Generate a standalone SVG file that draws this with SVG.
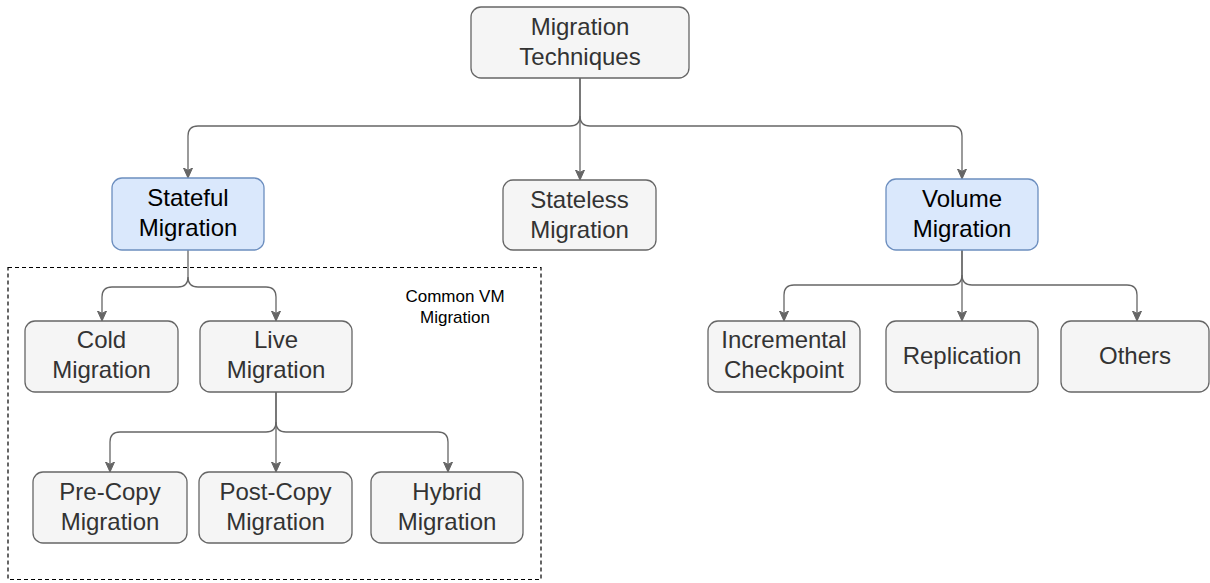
<svg xmlns="http://www.w3.org/2000/svg" width="1210" height="583" viewBox="0 0 1210 583">
<defs>
<marker id="arr" markerWidth="12" markerHeight="12" refX="9" refY="5.5" orient="auto" markerUnits="userSpaceOnUse">
<path d="M0,1 L10,5.5 L0,10 L2.4,5.5 Z" fill="#666" stroke="#666" stroke-width="1"/>
</marker>
</defs>
<style>
.g{fill:#f5f5f5;stroke:#666;stroke-width:1.3}
.b{fill:#dae8fc;stroke:#6c8ebf;stroke-width:1.3}
.t{font-family:"Liberation Sans",Arial,sans-serif;font-size:24px;text-anchor:middle;fill:#333}
.tb{fill:#000}
.c{fill:none;stroke:#666;stroke-width:1.3;marker-end:url(#arr)}
.s{font-family:"Liberation Sans",Arial,sans-serif;font-size:17px;text-anchor:middle;fill:#000}
</style>
<rect x="8" y="267.5" width="533" height="312" fill="none" stroke="#000" stroke-width="1.2" stroke-dasharray="4 3"/>
<text class="s" x="455" y="302">Common VM</text>
<text class="s" x="455" y="323">Migration</text>
<g id="connectors">
<path class="c" d="M580,78 V116 Q580,126 570,126 H198 Q188,126 188,136 V177"/>
<path class="c" d="M580,78 V179"/>
<path class="c" d="M580,116 Q580,126 590,126 H952 Q962,126 962,136 V178"/>
<path class="c" d="M188,250 V277 Q188,287 178,287 H112 Q102,287 102,297 V320"/>
<path class="c" d="M188,277 Q188,287 198,287 H266 Q276,287 276,297 V320"/>
<path class="c" d="M276,391 V422 Q276,432 266,432 H120 Q110,432 110,442 V471"/>
<path class="c" d="M276,391 V471"/>
<path class="c" d="M276,422 Q276,432 286,432 H438 Q448,432 448,442 V471"/>
<path class="c" d="M962,250 V275 Q962,285 952,285 H794 Q784,285 784,295 V320"/>
<path class="c" d="M962,250 V320"/>
<path class="c" d="M962,275 Q962,285 972,285 H1127 Q1137,285 1137,295 V320"/>
</g>
<g id="root"><rect class="g" x="471" y="7" width="218" height="71" rx="10"/><text class="t" x="580" y="35">Migration</text><text class="t" x="580" y="65">Techniques</text></g>
<g id="stateful"><rect class="b" x="112" y="178" width="152" height="72" rx="10"/><text class="t tb" x="188" y="206">Stateful</text><text class="t tb" x="188" y="236">Migration</text></g>
<g id="stateless"><rect class="g" x="503" y="180" width="153" height="70" rx="10"/><text class="t" x="579.5" y="208">Stateless</text><text class="t" x="579.5" y="238">Migration</text></g>
<g id="volume"><rect class="b" x="886" y="179" width="152" height="71" rx="10"/><text class="t tb" x="962" y="207">Volume</text><text class="t tb" x="962" y="237">Migration</text></g>
<g id="cold"><rect class="g" x="25" y="321" width="153" height="71" rx="10"/><text class="t" x="101.5" y="348">Cold</text><text class="t" x="101.5" y="378">Migration</text></g>
<g id="live"><rect class="g" x="200" y="321" width="152" height="71" rx="10"/><text class="t" x="276" y="348">Live</text><text class="t" x="276" y="378">Migration</text></g>
<g id="precopy"><rect class="g" x="33" y="472" width="154" height="71" rx="10"/><text class="t" x="110" y="500">Pre-Copy</text><text class="t" x="110" y="530">Migration</text></g>
<g id="postcopy"><rect class="g" x="199" y="472" width="153" height="71" rx="10"/><text class="t" x="275.5" y="500">Post-Copy</text><text class="t" x="275.5" y="530">Migration</text></g>
<g id="hybrid"><rect class="g" x="371" y="472" width="152" height="71" rx="10"/><text class="t" x="447" y="500">Hybrid</text><text class="t" x="447" y="530">Migration</text></g>
<g id="incremental"><rect class="g" x="708" y="321" width="152" height="71" rx="10"/><text class="t" x="784" y="348">Incremental</text><text class="t" x="784" y="378">Checkpoint</text></g>
<g id="replication"><rect class="g" x="886" y="321" width="152" height="71" rx="10"/><text class="t" x="962" y="364">Replication</text></g>
<g id="others"><rect class="g" x="1061" y="321" width="148" height="71" rx="10"/><text class="t" x="1135" y="364">Others</text></g>
</svg>
